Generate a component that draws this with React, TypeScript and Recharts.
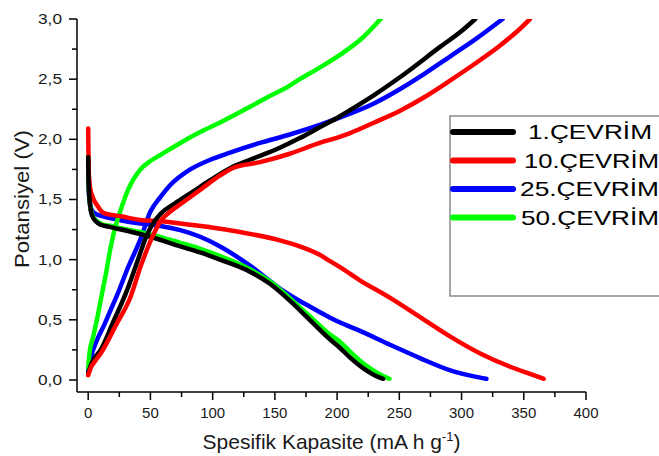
import React from "react"
import { LineChart, Line, XAxis, YAxis, Legend, Label } from "recharts"

type Pt = { cap: number; v: number }

// capacity (mA h g-1) / potential (V) pairs
const c1Discharge: Pt[] = [
    { cap: 0, v: 1.85 }, { cap: 0.2, v: 1.7 }, { cap: 0.6, v: 1.58 }, { cap: 1.5, v: 1.45 },
    { cap: 3, v: 1.37 }, { cap: 6, v: 1.32 }, { cap: 10, v: 1.29 }, { cap: 18, v: 1.27 },
    { cap: 31, v: 1.24 }, { cap: 50, v: 1.19 }, { cap: 74, v: 1.11 }, { cap: 90, v: 1.06 },
    { cap: 106, v: 1.0 }, { cap: 130, v: 0.9 }, { cap: 146, v: 0.8 }, { cap: 162, v: 0.66 },
    { cap: 178, v: 0.5 }, { cap: 194, v: 0.34 }, { cap: 202, v: 0.27 }, { cap: 210, v: 0.19 },
    { cap: 222, v: 0.09 }, { cap: 230, v: 0.04 }, { cap: 237, v: 0.01 },
]
const c1Charge: Pt[] = [
    { cap: 0, v: 0.05 }, { cap: 2, v: 0.12 }, { cap: 5, v: 0.18 }, { cap: 10, v: 0.25 },
    { cap: 20, v: 0.48 }, { cap: 31, v: 0.74 }, { cap: 39, v: 0.97 }, { cap: 47, v: 1.2 },
    { cap: 52, v: 1.3 }, { cap: 58, v: 1.38 }, { cap: 70, v: 1.47 }, { cap: 82, v: 1.55 },
    { cap: 98, v: 1.66 }, { cap: 114, v: 1.76 }, { cap: 130, v: 1.83 }, { cap: 154, v: 1.93 },
    { cap: 170, v: 2.01 }, { cap: 186, v: 2.1 }, { cap: 202, v: 2.19 }, { cap: 210, v: 2.24 },
    { cap: 230, v: 2.37 }, { cap: 251, v: 2.52 }, { cap: 283, v: 2.77 }, { cap: 300, v: 2.9 },
    { cap: 311, v: 3.0 },
]
const c10Discharge: Pt[] = [
    { cap: 0, v: 2.09 }, { cap: 0.2, v: 1.9 }, { cap: 0.6, v: 1.7 }, { cap: 1.5, v: 1.6 },
    { cap: 4, v: 1.51 }, { cap: 8, v: 1.44 }, { cap: 12, v: 1.39 }, { cap: 20, v: 1.37 },
    { cap: 26, v: 1.36 }, { cap: 42, v: 1.33 }, { cap: 58, v: 1.32 }, { cap: 82, v: 1.29 },
    { cap: 98, v: 1.27 }, { cap: 122, v: 1.23 }, { cap: 154, v: 1.16 }, { cap: 170, v: 1.11 },
    { cap: 186, v: 1.04 }, { cap: 194, v: 0.99 }, { cap: 202, v: 0.94 }, { cap: 218, v: 0.83 },
    { cap: 243, v: 0.68 }, { cap: 267, v: 0.52 }, { cap: 291, v: 0.36 }, { cap: 315, v: 0.22 },
    { cap: 339, v: 0.11 }, { cap: 355, v: 0.05 }, { cap: 366, v: 0.01 },
]
const c10Charge: Pt[] = [
    { cap: 0, v: 0.04 }, { cap: 2, v: 0.1 }, { cap: 5, v: 0.15 }, { cap: 10, v: 0.22 },
    { cap: 23, v: 0.47 }, { cap: 34, v: 0.69 }, { cap: 42, v: 0.94 }, { cap: 52, v: 1.2 },
    { cap: 58, v: 1.32 }, { cap: 66, v: 1.4 }, { cap: 74, v: 1.46 }, { cap: 90, v: 1.58 },
    { cap: 106, v: 1.7 }, { cap: 116, v: 1.76 }, { cap: 138, v: 1.81 }, { cap: 162, v: 1.88 },
    { cap: 186, v: 1.97 }, { cap: 202, v: 2.02 }, { cap: 210, v: 2.05 }, { cap: 230, v: 2.14 },
    { cap: 251, v: 2.24 }, { cap: 270, v: 2.35 }, { cap: 291, v: 2.49 }, { cap: 311, v: 2.63 },
    { cap: 331, v: 2.78 }, { cap: 345, v: 2.9 }, { cap: 355, v: 3.0 },
]
const c25Discharge: Pt[] = [
    { cap: 0, v: 1.8 }, { cap: 0.2, v: 1.65 }, { cap: 1, v: 1.5 }, { cap: 3, v: 1.41 },
    { cap: 6, v: 1.38 }, { cap: 12, v: 1.36 }, { cap: 25, v: 1.33 }, { cap: 42, v: 1.3 },
    { cap: 58, v: 1.28 }, { cap: 74, v: 1.245 }, { cap: 90, v: 1.19 }, { cap: 106, v: 1.11 },
    { cap: 130, v: 0.95 }, { cap: 154, v: 0.76 }, { cap: 178, v: 0.61 }, { cap: 194, v: 0.52 },
    { cap: 202, v: 0.48 }, { cap: 218, v: 0.41 }, { cap: 243, v: 0.29 }, { cap: 267, v: 0.18 },
    { cap: 291, v: 0.08 }, { cap: 310, v: 0.03 }, { cap: 320, v: 0.01 },
]
const c25Charge: Pt[] = [
    { cap: 0, v: 0.07 }, { cap: 2, v: 0.18 }, { cap: 7, v: 0.33 }, { cap: 13, v: 0.46 },
    { cap: 18, v: 0.58 }, { cap: 25, v: 0.75 }, { cap: 31, v: 0.91 }, { cap: 42, v: 1.17 },
    { cap: 50, v: 1.4 }, { cap: 58, v: 1.52 }, { cap: 66, v: 1.62 }, { cap: 82, v: 1.75 },
    { cap: 98, v: 1.83 }, { cap: 114, v: 1.89 }, { cap: 138, v: 1.97 }, { cap: 162, v: 2.04 },
    { cap: 186, v: 2.12 }, { cap: 202, v: 2.18 }, { cap: 230, v: 2.3 }, { cap: 251, v: 2.42 },
    { cap: 271, v: 2.55 }, { cap: 291, v: 2.69 }, { cap: 311, v: 2.83 }, { cap: 333, v: 3.0 },
]
const c50Discharge: Pt[] = [
    { cap: 0, v: 1.86 }, { cap: 0.2, v: 1.7 }, { cap: 0.6, v: 1.58 }, { cap: 1.5, v: 1.46 },
    { cap: 3, v: 1.38 }, { cap: 6, v: 1.33 }, { cap: 10, v: 1.3 }, { cap: 18, v: 1.28 },
    { cap: 31, v: 1.25 }, { cap: 50, v: 1.21 }, { cap: 74, v: 1.14 }, { cap: 90, v: 1.09 },
    { cap: 106, v: 1.03 }, { cap: 130, v: 0.92 }, { cap: 146, v: 0.82 }, { cap: 162, v: 0.68 },
    { cap: 178, v: 0.53 }, { cap: 194, v: 0.38 }, { cap: 202, v: 0.32 }, { cap: 210, v: 0.24 },
    { cap: 222, v: 0.13 }, { cap: 232, v: 0.06 }, { cap: 242, v: 0.01 },
]
const c50Charge: Pt[] = [
    { cap: 0, v: 0.1 }, { cap: 1, v: 0.22 }, { cap: 4, v: 0.36 }, { cap: 7, v: 0.5 },
    { cap: 10, v: 0.66 }, { cap: 14, v: 0.87 }, { cap: 18, v: 1.1 }, { cap: 22, v: 1.28 },
    { cap: 26, v: 1.41 }, { cap: 32, v: 1.58 }, { cap: 42, v: 1.75 }, { cap: 50, v: 1.82 },
    { cap: 58, v: 1.87 }, { cap: 74, v: 1.97 }, { cap: 90, v: 2.06 }, { cap: 106, v: 2.14 },
    { cap: 130, v: 2.27 }, { cap: 144, v: 2.35 }, { cap: 161, v: 2.44 }, { cap: 170, v: 2.5 },
    { cap: 185, v: 2.59 }, { cap: 202, v: 2.7 }, { cap: 220, v: 2.84 }, { cap: 235, v: 3.0 },
]

const cycleNames = ["1.ÇEVRİM", "10.ÇEVRİM", "25.ÇEVRİM", "50.ÇEVRİM"]
const cycleColors = ["#000000", "#ff0000", "#0000ff", "#00ff00"]

const xTicks = [0, 25, 50, 75, 100, 125, 150, 175, 200, 225, 250, 275, 300, 325, 350, 375, 400]
const yTicks = [0, 0.25, 0.5, 0.75, 1, 1.25, 1.5, 1.75, 2, 2.25, 2.5, 2.75, 3]

const FONT = "'Liberation Sans', Arial, sans-serif"

const XTick = (props: any) => {
    const { x, y, payload } = props
    const major = payload.value % 50 === 0
    return (
        <g>
            <line x1={x} y1={y} x2={x} y2={y + (major ? 8 : 5)} stroke="#000" strokeWidth={1.5} />
            {major && (
                <text x={x} y={y + 26} textAnchor="middle" fontSize={15} fontFamily={FONT} fill="#1a1a1a">
                    {payload.value}
                </text>
            )}
        </g>
    )
}

const YTick = (props: any) => {
    const { x, y, payload } = props
    const major = Math.abs((payload.value * 2) % 1) < 1e-6
    return (
        <g>
            <line x1={x} y1={y} x2={x - (major ? 8 : 5)} y2={y} stroke="#000" strokeWidth={1.5} />
            {major && (
                <text
                    transform={`translate(${x - 15},${y + 5}) scale(1.15,1)`}
                    textAnchor="end"
                    fontSize={15}
                    fontFamily={FONT}
                    fill="#1a1a1a"
                >
                    {payload.value.toFixed(1).replace(".", ",")}
                </text>
            )}
        </g>
    )
}

const legendText = [
    { x: 528, len: 124 },
    { x: 524, len: 135 },
    { x: 520, len: 139 },
    { x: 521, len: 138 },
]

const LegendBox = () => (
    <svg width={212} height={182} style={{ display: "block", overflow: "visible" }}>
        <path d="M212,1 L1,1 L1,181 L212,181" fill="#fff" stroke="#8a8a8a" strokeWidth={1.5} />
        {cycleNames.map((name, i) => {
            const ly = 17 + i * 28.5
            return (
                <g key={name}>
                    <line x1={4} y1={ly} x2={64} y2={ly} stroke={cycleColors[i]} strokeWidth={6} strokeLinecap="round" />
                    <text
                        x={legendText[i].x - 449}
                        y={ly + 7}
                        fontSize={21}
                        fontFamily={FONT}
                        fill="#000"
                        textLength={legendText[i].len}
                        lengthAdjust="spacingAndGlyphs"
                    >
                        {name}
                    </text>
                </g>
            )
        })}
    </svg>
)

const series = [
    { key: "c25d", data: c25Discharge, color: cycleColors[2] },
    { key: "c25c", data: c25Charge, color: cycleColors[2] },
    { key: "c50d", data: c50Discharge, color: cycleColors[3] },
    { key: "c50c", data: c50Charge, color: cycleColors[3] },
    { key: "c10d", data: c10Discharge, color: cycleColors[1] },
    { key: "c1d", data: c1Discharge, color: cycleColors[0] },
    { key: "c1c", data: c1Charge, color: cycleColors[0] },
    { key: "c10c", data: c10Charge, color: cycleColors[1] },
]

export default function App() {
    return (
        <div style={{ position: "absolute", left: 0, top: 0, width: 659, height: 456, background: "#fff", overflow: "hidden" }}>
            <LineChart width={659} height={456} margin={{ top: 19, right: 73, bottom: 34, left: 17 }}>
                <XAxis
                    type="number"
                    dataKey="cap"
                    domain={[-9, 400]}
                    allowDataOverflow
                    ticks={xTicks}
                    interval={0}
                    height={30}
                    tickSize={0}
                    tickMargin={0}
                    tick={<XTick />}
                    axisLine={{ stroke: "#000", strokeWidth: 1.5 }}
                >
                    <Label
                        content={(p: any) => {
                            const vb = p.viewBox || { x: 77, width: 509, y: 392 }
                            return (
                                <text x={vb.x + vb.width / 2} y={449} textAnchor="middle" fontSize={21} fontFamily={FONT} fill="#1a1a1a">
                                    Spesifik Kapasite (mA h g
                                    <tspan dy={-8} fontSize={13}>-1</tspan>
                                    <tspan dy={8}>)</tspan>
                                </text>
                            )
                        }}
                    />
                </XAxis>
                <YAxis
                    type="number"
                    domain={[-0.1, 3.0]}
                    allowDataOverflow
                    ticks={yTicks}
                    interval={0}
                    width={60}
                    tickSize={0}
                    tickMargin={0}
                    tick={<YTick />}
                    axisLine={{ stroke: "#000", strokeWidth: 1.5 }}
                >
                    <Label
                        content={() => (
                            <text
                                transform="translate(29,199) rotate(-90)"
                                textAnchor="middle"
                                fontSize={21}
                                fontFamily={FONT}
                                fill="#1a1a1a"
                                textLength={138}
                                lengthAdjust="spacingAndGlyphs"
                            >
                                Potansiyel (V)
                            </text>
                        )}
                    />
                </YAxis>
                <Legend
                    layout="horizontal"
                    verticalAlign="middle"
                    align="center"
                    content={() => <LegendBox />}
                    wrapperStyle={{ left: 449, top: 115, width: 212, height: 182 }}
                />
                {series.map((s) => (
                    <Line
                        key={s.key}
                        data={s.data}
                        dataKey="v"
                        type="monotone"
                        stroke={s.color}
                        strokeWidth={4.5}
                        strokeLinecap="round"
                        dot={false}
                        activeDot={false}
                        isAnimationActive={false}
                    />
                ))}
            </LineChart>
        </div>
    )
}
